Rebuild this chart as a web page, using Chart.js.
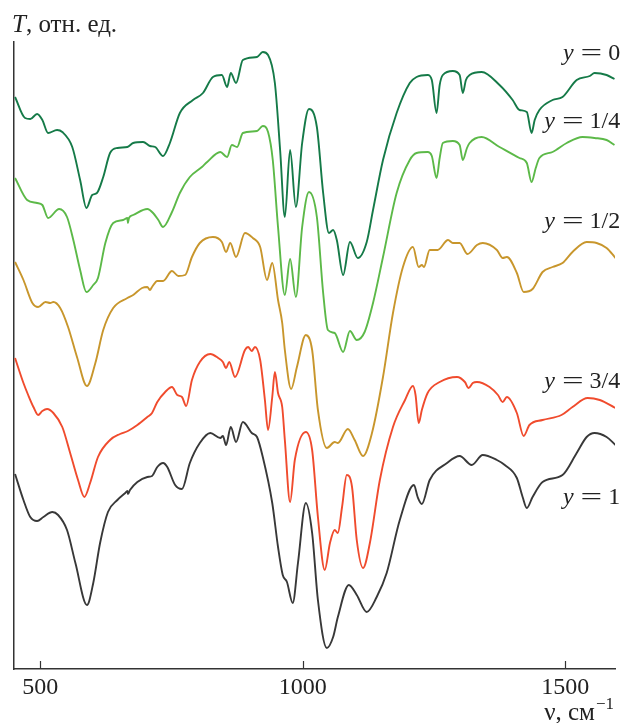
<!DOCTYPE html>
<html>
<head>
<meta charset="utf-8">
<script src="https://cdn.jsdelivr.net/npm/chart.js@4/dist/chart.umd.min.js"></script>
<style>
  body { margin: 0; background: #fff; }
  canvas { display: block; }
</style>
</head>
<body>
<canvas id="chart" width="624" height="723"></canvas>
<script>
// ИК-спектры, T в отн. ед., ν в см-1
const tickValues = [500, 1000, 1500];
const labels = ["0", "1/4", "1/2", "3/4", "1"];

// y = 0
const nu0 = [452, 471, 481, 494, 504, 515, 532, 542, 561, 576, 588, 599, 608, 620, 633, 647, 666, 677, 696, 709, 719, 734, 747, 766, 791, 810, 829, 846, 856, 863, 873, 886, 913, 924, 934, 947, 957, 966, 976, 987, 999, 1012, 1027, 1039, 1050, 1058, 1065, 1077, 1090, 1105, 1122, 1134, 1153, 1179, 1204, 1217, 1238, 1246, 1255, 1261, 1267, 1286, 1299, 1305, 1311, 1318, 1341, 1375, 1400, 1413, 1427, 1436, 1442, 1451, 1476, 1495, 1522, 1547, 1556, 1579, 1594];
const t0 = [57.2, 55.1, 55.0, 55.5, 54.9, 53.6, 53.9, 53.7, 52.2, 48.9, 46.1, 47.4, 47.6, 49.2, 51.6, 52.1, 52.2, 52.6, 52.7, 52.3, 52.2, 51.3, 52.6, 55.6, 56.9, 57.6, 59.2, 59.4, 58.2, 59.6, 58.6, 60.9, 61.2, 61.7, 61.4, 58.6, 51.9, 45.2, 51.9, 46.2, 52.6, 56.0, 54.2, 47.6, 43.6, 43.9, 42.9, 39.4, 42.7, 41.1, 42.7, 45.9, 50.9, 55.6, 58.6, 59.2, 59.4, 58.9, 55.6, 58.4, 59.4, 59.8, 59.4, 57.6, 58.9, 59.4, 59.7, 58.4, 56.9, 55.9, 55.7, 53.6, 54.9, 55.9, 56.9, 57.2, 58.9, 59.3, 59.6, 59.4, 59.0];

// y = 1/4
const nu1 = [452, 475, 494, 504, 515, 536, 551, 563, 576, 588, 601, 610, 624, 639, 658, 666, 667, 669, 677, 704, 715, 725, 734, 751, 766, 785, 808, 818, 843, 856, 865, 875, 886, 913, 924, 934, 943, 953, 966, 976, 987, 999, 1012, 1027, 1039, 1048, 1061, 1077, 1090, 1103, 1118, 1134, 1153, 1179, 1204, 1217, 1238, 1246, 1255, 1261, 1267, 1286, 1299, 1305, 1313, 1318, 1341, 1375, 1413, 1427, 1436, 1444, 1451, 1476, 1503, 1533, 1556, 1579, 1594];
const t1 = [49.1, 46.9, 46.6, 46.4, 45.1, 46.0, 45.2, 42.9, 39.9, 37.7, 38.4, 39.1, 42.6, 44.6, 44.9, 45.1, 44.6, 45.1, 45.4, 46.0, 45.6, 44.9, 44.2, 45.7, 47.6, 49.2, 50.2, 50.7, 51.7, 51.2, 52.4, 52.2, 53.6, 53.8, 54.3, 53.7, 50.9, 44.2, 37.4, 41.0, 37.2, 44.2, 47.7, 45.2, 37.6, 33.9, 33.6, 31.7, 33.8, 32.9, 33.7, 36.6, 41.2, 47.6, 50.9, 51.6, 51.7, 51.3, 49.1, 51.1, 52.6, 52.8, 52.4, 50.9, 52.1, 52.6, 53.2, 52.2, 51.1, 50.6, 48.7, 50.1, 51.1, 51.7, 52.6, 53.2, 53.1, 52.9, 52.4];

// y = 1/2
const nu2 = [452, 468, 485, 496, 510, 519, 525, 538, 553, 570, 589, 605, 620, 639, 666, 677, 694, 704, 709, 713, 723, 734, 751, 763, 776, 789, 804, 829, 846, 854, 862, 873, 890, 905, 919, 932, 942, 953, 961, 966, 978, 989, 1006, 1018, 1029, 1046, 1061, 1067, 1086, 1099, 1115, 1132, 1153, 1172, 1191, 1210, 1221, 1227, 1231, 1242, 1257, 1277, 1286, 1299, 1314, 1332, 1343, 1370, 1381, 1389, 1408, 1421, 1438, 1457, 1476, 1495, 1514, 1541, 1560, 1579, 1596];
const t2 = [40.7, 38.9, 36.6, 36.2, 36.7, 36.6, 36.7, 36.1, 34.2, 31.2, 28.3, 30.6, 33.9, 36.1, 37.1, 37.4, 38.1, 38.2, 37.9, 38.2, 38.8, 38.8, 39.8, 39.3, 39.4, 41.2, 42.6, 43.2, 42.7, 41.7, 42.6, 41.2, 43.6, 43.1, 42.2, 38.9, 40.6, 36.9, 34.6, 31.9, 28.0, 30.2, 33.4, 31.9, 25.9, 22.1, 22.7, 22.6, 24.0, 22.9, 21.3, 23.6, 29.2, 35.6, 40.2, 42.2, 40.2, 40.4, 40.2, 41.9, 41.9, 42.9, 42.6, 42.6, 41.5, 42.4, 42.6, 41.9, 41.1, 41.2, 39.6, 37.7, 38.0, 39.7, 40.2, 40.6, 41.7, 42.7, 42.6, 42.1, 41.1];

// y = 3/4
const nu3 = [452, 468, 477, 487, 496, 504, 513, 525, 542, 557, 572, 584, 595, 610, 633, 652, 667, 685, 704, 713, 723, 738, 751, 761, 770, 778, 789, 804, 824, 839, 848, 854, 860, 871, 890, 896, 903, 909, 919, 928, 934, 942, 947, 953, 961, 966, 976, 985, 1006, 1018, 1029, 1042, 1052, 1061, 1067, 1075, 1084, 1094, 1103, 1115, 1128, 1147, 1172, 1195, 1210, 1215, 1221, 1227, 1238, 1261, 1294, 1309, 1316, 1324, 1332, 1356, 1372, 1381, 1389, 1408, 1421, 1432, 1457, 1493, 1514, 1543, 1566, 1596];
const t3 = [31.1, 28.6, 27.4, 26.2, 25.4, 25.8, 26.0, 25.6, 24.2, 21.6, 18.9, 17.2, 18.6, 21.2, 22.9, 23.5, 23.8, 24.4, 25.2, 25.6, 26.7, 27.7, 28.2, 27.4, 27.2, 26.3, 28.9, 30.7, 31.5, 31.1, 30.7, 30.1, 30.7, 29.2, 31.9, 32.2, 31.8, 32.2, 30.9, 26.9, 23.9, 27.2, 29.7, 27.6, 26.2, 22.9, 16.7, 20.9, 23.7, 21.9, 15.2, 9.9, 12.6, 13.9, 13.6, 16.2, 19.4, 18.2, 12.9, 10.1, 12.6, 18.9, 24.2, 26.9, 28.3, 27.4, 24.6, 25.9, 27.6, 28.7, 29.2, 28.7, 28.1, 28.6, 28.7, 28.2, 27.4, 26.7, 27.2, 25.6, 23.3, 24.4, 24.9, 25.4, 26.2, 27.1, 26.9, 26.1];

// y = 1
const nu4 = [452, 468, 481, 494, 506, 523, 534, 551, 567, 589, 601, 614, 629, 647, 662, 666, 667, 671, 685, 704, 713, 723, 734, 742, 757, 770, 785, 804, 824, 843, 848, 854, 863, 873, 886, 903, 913, 924, 942, 953, 962, 970, 981, 991, 1006, 1018, 1029, 1046, 1058, 1067, 1088, 1103, 1122, 1141, 1160, 1185, 1212, 1219, 1227, 1242, 1275, 1299, 1322, 1343, 1370, 1385, 1408, 1419, 1427, 1438, 1457, 1495, 1522, 1541, 1556, 1579, 1596];
const t4 = [19.5, 16.9, 15.2, 14.8, 15.2, 15.7, 15.4, 13.9, 10.6, 6.4, 8.6, 12.6, 15.7, 16.9, 17.6, 17.8, 17.5, 17.9, 18.7, 19.2, 19.3, 20.2, 20.6, 20.2, 18.4, 18.0, 20.6, 22.6, 23.6, 23.1, 23.3, 22.4, 24.2, 22.7, 24.7, 23.6, 23.2, 21.2, 16.6, 12.2, 9.4, 8.7, 6.6, 10.6, 16.6, 13.6, 6.9, 2.1, 3.2, 5.2, 8.4, 7.4, 5.7, 7.2, 9.6, 14.9, 18.4, 17.2, 16.5, 18.9, 20.6, 21.3, 20.4, 21.4, 20.9, 20.4, 19.1, 17.2, 16.1, 17.2, 18.7, 19.4, 21.6, 23.2, 23.6, 23.2, 22.4];

const allNu = [nu0, nu1, nu2, nu3, nu4];
const allT = [t0, t1, t2, t3, t4];
const colors = ["#157a48", "#5cb948", "#c8962c", "#f04b2d", "#383838"];
// где ставить подписи (в координатах графика)
const labelPos = [
    { x: 1605, y: 60.9 },
    { x: 1605, y: 54.1 },
    { x: 1605, y: 44.1 },
    { x: 1605, y: 28.1 },
    { x: 1605, y: 16.5 }
];

const serif = "'Liberation Serif', 'DejaVu Serif', serif";

const datasets = allNu.map((nu, k) => ({
    label: "y = " + labels[k],
    data: nu.map((x, i) => ({ x: x, y: allT[k][i] })),
    borderColor: colors[k],
    borderWidth: 1.9,
    pointRadius: 0,
    fill: false,
    cubicInterpolationMode: "monotone"
}));

// подписи, засечки и заголовки осей
const decor = {
    id: "decor",
    afterDraw(chart) {
        const ctx = chart.ctx;
        const xs = chart.scales.x;
        const ys = chart.scales.y;
        const area = chart.chartArea;
        ctx.save();

        // засечки внутрь
        ctx.strokeStyle = "#333";
        ctx.lineWidth = 1.2;
        xs.ticks.forEach(t => {
            const px = Math.round(xs.getPixelForValue(t.value)) + 0.5;
            ctx.beginPath();
            ctx.moveTo(px, area.bottom);
            ctx.lineTo(px, area.bottom - 8);
            ctx.stroke();
        });

        ctx.fillStyle = "#222";
        ctx.textBaseline = "alphabetic";

        // подписи кривых: y = ...
        labelPos.forEach((p, k) => {
            const px = xs.getPixelForValue(p.x);
            const py = ys.getPixelForValue(p.y);
            ctx.font = "24px " + serif;
            const wN = ctx.measureText(labels[k]).width;
            ctx.fillText(labels[k], px - wN, py);
            const wE = ctx.measureText("=").width * 1.6;
            const eLeft = px - wN - 6 - wE;
            ctx.save();
            ctx.translate(eLeft, py);
            ctx.scale(1.6, 1);
            ctx.fillText("=", 0, 0);
            ctx.restore();
            ctx.font = "italic 24px " + serif;
            const wY = ctx.measureText("y").width;
            ctx.fillText("y", eLeft - 7 - wY, py);
        });

        // T, отн. ед.
        ctx.font = "italic 25px " + serif;
        ctx.fillText("T", 12, 32);
        const wT = ctx.measureText("T").width;
        ctx.font = "25px " + serif;
        ctx.fillText(", отн. ед.", 12 + wT, 32);

        // ν, см-1
        ctx.font = "25px " + serif;
        const main = "ν, см";
        const wMain = ctx.measureText(main).width;
        ctx.font = "17px " + serif;
        const sup = "−1";
        const wSup = ctx.measureText(sup).width;
        const x0 = 614 - wMain - wSup - 1;
        ctx.font = "25px " + serif;
        ctx.fillText(main, x0, 720);
        ctx.font = "17px " + serif;
        ctx.fillText(sup, x0 + wMain + 1, 709);

        ctx.restore();
    }
};

const chart = new Chart(document.getElementById("chart"), {
    type: "line",
    data: { datasets: datasets },
    options: {
        responsive: false,
        animation: false,
        devicePixelRatio: 1,
        layout: { padding: { top: 42, right: 9, left: 0, bottom: 0 } },
        plugins: {
            legend: { display: false },
            tooltip: { enabled: false }
        },
        scales: {
            x: {
                type: "linear",
                min: 450,
                max: 1595,
                afterBuildTicks: scale => {
                    scale.ticks = tickValues.map(v => ({ value: v }));
                },
                afterFit: scale => { scale.height = 54; },
                grid: { display: true, drawOnChartArea: false, drawTicks: false },
                border: { display: true, color: "#333", width: 1.5 },
                ticks: {
                    color: "#222",
                    padding: 4,
                    maxRotation: 0,
                    font: { family: serif, size: 24 },
                    callback: v => String(v)
                }
            },
            y: {
                type: "linear",
                min: 0,
                max: 62.7,
                afterFit: scale => { scale.width = 14; },
                grid: { display: false },
                border: { display: true, color: "#333", width: 1.5 },
                ticks: { display: false }
            }
        }
    },
    plugins: [decor]
});
</script>
</body>
</html>
